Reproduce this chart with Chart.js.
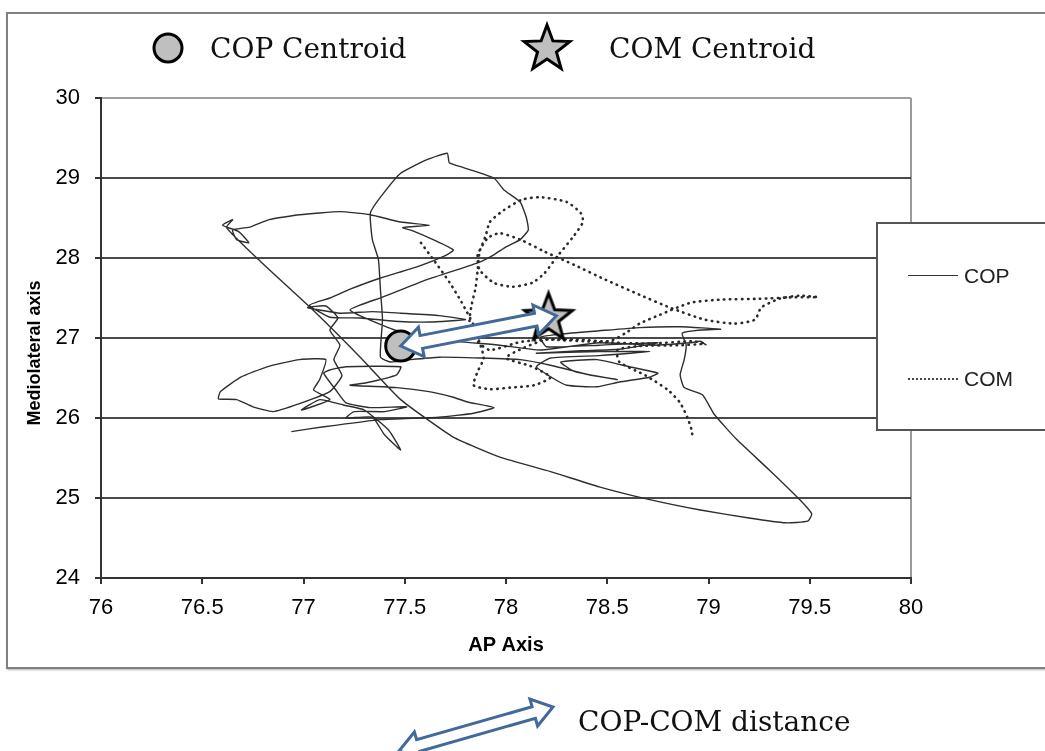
<!DOCTYPE html>
<html>
<head>
<meta charset="utf-8">
<script src="https://cdn.jsdelivr.net/npm/chart.js@4.4.1/dist/chart.umd.min.js"></script>
<style>
  html, body { margin: 0; padding: 0; background: #fff; }
  body { width: 1045px; height: 751px; position: relative; overflow: hidden; font-family: "Liberation Sans", Arial, sans-serif; }
  #frame { position: absolute; left: 6px; top: 12px; width: 1100px; height: 653px; border: 2px solid #808080; box-shadow: 1px 1px 2px #b0b0b0; }
  #chart { position: absolute; left: 0; top: 0; width: 1045px; height: 751px; }
  #marks { position: absolute; left: 0; top: 0; }
  .serif { position: absolute; font-family: "DejaVu Serif", serif; font-size: 28px; color: #111; line-height: 1; white-space: nowrap; }
  #legendBox { position: absolute; left: 876px; top: 222px; width: 200px; height: 205px; border: 2px solid #555; background: #fff; }
  .key { position: absolute; left: 30px; width: 50px; height: 0; }
  .keyText { position: absolute; left: 86px; font-size: 21px; color: #222; line-height: 1; }
</style>
</head>
<body>
<div id="frame"></div>
<canvas id="chart" width="1045" height="751"></canvas>
<svg id="marks" width="1045" height="751"></svg>
<div class="serif" style="left:210px;top:35px">COP Centroid</div>
<div class="serif" style="left:609px;top:35px">COM Centroid</div>
<div class="serif" style="left:578px;top:708px">COP-COM distance</div>
<div id="legendBox">
  <div class="key" style="top:51px;border-top:1.5px solid #333"></div>
  <div class="keyText" style="top:41px">COP</div>
  <div class="key" style="top:154px;border-top:2px dotted #444"></div>
  <div class="keyText" style="top:144px">COM</div>
</div>
<script>
// centre of pressure trace (AP, ML)
const copX = [
  // lower left tangle
  76.94, 77.10, 77.38, 77.67, 77.84, 77.94, 77.81, 77.74, 77.62, 77.46,
  77.23, 77.31, 77.46, 77.48, 77.21, 77.13, 77.10, 77.16, 77.21, 77.33,
  77.51, 77.40, 77.25, 77.21, 77.34, 77.40, 77.48, 77.42, 77.30, 77.20,
  77.08, 76.99, 77.13, 77.05, 77.08, 77.11,
  // left loop and upper curves
  76.98, 76.82, 76.69,
  76.59, 76.58, 76.67, 76.75, 76.85, 76.98, 77.13, 77.19, 77.15, 77.18,
  77.13, 77.17, 77.11, 77.02, 77.18, 77.34, 77.48, 77.67, 77.80, 77.62,
  77.45, 77.28, 77.13, 77.03, 77.13, 77.23, 77.38, 77.56, 77.70, 77.74,
  77.64, 77.54, 77.49, 77.62, 77.48, 77.33, 77.18, 76.98, 76.83, 76.74,
  76.65, 76.67, 76.73, 76.68, 76.60, 76.65, 76.62, 76.79, 77.03, 77.28,
  // long diagonal and big loop
  77.48, 77.74, 77.97, 78.22, 78.46, 78.71, 78.96, 79.20, 79.38, 79.49,
  79.51, 79.45, 79.30, 79.14, 79.03, 78.97, 78.88, 78.86, 78.88, 78.89,
  78.87, 78.96, 79.06, 78.86, 78.66, 78.46, 78.27, 78.17,
  // middle right narrow loops
  78.20, 78.46, 78.75, 78.56, 78.37, 78.15, 78.46, 78.71, 78.46, 78.22,
  78.15, 78.23, 78.30, 78.45, 78.56, 78.71, 78.75, 78.61, 78.45, 78.27,
  78.34, 78.55, 78.41, 78.22, 78.07, 77.87, 77.67, 77.53, 77.43, 77.38,
  // tall vertical and top arch
  77.39, 77.38, 77.37, 77.34, 77.33,
  77.38, 77.48, 77.61, 77.71, 77.72, 77.79, 77.94, 77.99, 78.07, 78.10,
  78.11, 78.07, 78.00, 77.94, 77.86, 77.61, 77.39, 77.23, 77.45, 77.67,
  77.97, 78.17, 78.46, 78.73, 78.91, 78.96, 78.99
];
const copY = [
  25.83, 25.89, 25.98, 26.01, 26.06, 26.13, 26.20, 26.26, 26.33, 26.38,
  26.41, 26.44, 26.54, 26.64, 26.64, 26.60, 26.56, 26.35, 26.19, 26.13,
  26.14, 26.08, 26.08, 26.00, 26.01, 25.79, 25.60, 25.85, 26.10, 26.16,
  26.23, 26.10, 26.23, 26.35, 26.48, 26.73,
  26.73, 26.64, 26.51,
  26.33, 26.24, 26.23, 26.14, 26.08, 26.18, 26.33, 26.53, 26.73, 26.91,
  27.10, 27.25, 27.40, 27.38, 27.31, 27.33, 27.31, 27.28, 27.23, 27.20,
  27.21, 27.25, 27.26, 27.41, 27.50, 27.61, 27.75, 27.89, 28.03, 28.10,
  28.23, 28.34, 28.38, 28.41, 28.45, 28.54, 28.58, 28.54, 28.48, 28.39,
  28.35, 28.23, 28.19, 28.33, 28.41, 28.48, 28.38, 27.95, 27.39, 26.76,
  26.23, 25.76, 25.51, 25.33, 25.14, 24.98, 24.85, 24.75, 24.69, 24.71,
  24.80, 24.98, 25.35, 25.73, 26.04, 26.29, 26.38, 26.54, 26.73, 26.91,
  27.06, 27.10, 27.11, 27.14, 27.13, 27.09, 27.05, 27.01,
  26.89, 26.91, 26.94, 26.86, 26.84, 26.81, 26.83, 26.83, 26.78, 26.75,
  26.64, 26.50, 26.41, 26.39, 26.45, 26.51, 26.56, 26.64, 26.73, 26.70,
  26.58, 26.48, 26.54, 26.66, 26.73, 26.75, 26.76, 26.73, 26.70, 26.76,
  27.23, 27.60, 27.98, 28.23, 28.56,
  28.76, 29.06, 29.23, 29.31, 29.19, 29.13, 29.00, 28.85, 28.70, 28.51,
  28.35, 28.23, 28.14, 28.04, 27.94, 27.73, 27.51, 27.35, 27.10, 26.98,
  26.91, 26.85, 26.94, 26.91, 26.94, 26.96, 26.91
];

// centre of mass trace
const comX = [
  77.58, 77.65, 77.72, 77.78, 77.84, 77.87, 77.89, 77.86, 77.84, 77.92,
  78.02, 78.14, 78.22, 78.12, 78.00, 78.09, 78.20, 78.37, 78.51, 78.59,
  78.66, 78.76, 78.91, 79.06, 79.25, 79.43, 79.54, 79.45, 79.35, 79.26,
  79.23, 79.13, 78.98, 78.81, 78.66, 78.49, 78.34, 78.19, 78.07, 77.97,
  77.91, 77.86, 77.87, 77.94, 78.03, 78.13, 78.19, 78.25, 78.33, 78.38,
  78.37, 78.30, 78.17, 78.08, 77.99, 77.92, 77.90, 77.87, 77.86, 77.85,
  77.83, 77.82, 77.85, 77.92, 78.07, 78.20, 78.46, 78.71, 78.92, 78.98,
  78.86, 78.66, 78.55, 78.56, 78.69, 78.80, 78.86, 78.90, 78.92, 78.91
];
const comY = [
  28.19, 27.95, 27.70, 27.45, 27.16, 26.94, 26.75, 26.58, 26.41, 26.36,
  26.38, 26.41, 26.51, 26.65, 26.75, 26.88, 26.98, 26.98, 26.96, 27.06,
  27.18, 27.29, 27.44, 27.48, 27.49, 27.51, 27.51, 27.53, 27.49, 27.38,
  27.23, 27.18, 27.23, 27.38, 27.54, 27.73, 27.91, 28.08, 28.23, 28.31,
  28.25, 28.04, 27.85, 27.69, 27.64, 27.69, 27.81, 28.01, 28.26, 28.45,
  28.56, 28.70, 28.76, 28.73, 28.60, 28.45, 28.28, 28.08, 27.85, 27.63,
  27.41, 27.20, 26.98, 26.85, 26.95, 26.98, 26.95, 26.93, 26.96, 26.93,
  26.91, 26.90, 26.85, 26.70, 26.53, 26.35, 26.19, 25.98, 25.81, 25.75
];

const copCentroid = [77.48, 26.90];
const comCentroid = [78.21, 27.26];

const xTicks = [76, 76.5, 77, 77.5, 78, 78.5, 79, 79.5, 80];
const yTicks = [24, 25, 26, 27, 28, 29, 30];

const arrowBlue = "#41699b";
const grey = "#bfbfbf";
const sansFamily = "'Liberation Sans', Arial, sans-serif";

function starPoints(cx, cy, R, r) {
  const pts = [];
  for (let i = 0; i < 10; i++) {
    const a = -Math.PI / 2 + i * Math.PI / 5;
    const rad = i % 2 === 0 ? R : r;
    pts.push([cx + rad * Math.cos(a), cy + rad * Math.sin(a)]);
  }
  return pts;
}

// double headed block arrow outline
function arrowPoints(x1, y1, x2, y2, sh, hh, hl) {
  const L = Math.hypot(x2 - x1, y2 - y1);
  const ux = (x2 - x1) / L, uy = (y2 - y1) / L;
  const nx = -uy, ny = ux;
  const a = [x1 + ux * hl, y1 + uy * hl];
  const b = [x2 - ux * hl, y2 - uy * hl];
  return [
    [x1, y1],
    [a[0] + nx * hh, a[1] + ny * hh],
    [a[0] + nx * sh, a[1] + ny * sh],
    [b[0] + nx * sh, b[1] + ny * sh],
    [b[0] + nx * hh, b[1] + ny * hh],
    [x2, y2],
    [b[0] - nx * hh, b[1] - ny * hh],
    [b[0] - nx * sh, b[1] - ny * sh],
    [a[0] - nx * sh, a[1] - ny * sh],
    [a[0] - nx * hh, a[1] - ny * hh]
  ];
}

// star image used as point style
const starImg = document.createElement("canvas");
starImg.width = 60;
starImg.height = 60;
const sc = starImg.getContext("2d");
sc.beginPath();
starPoints(30, 31, 25, 10.5).forEach((p, i) => i ? sc.lineTo(p[0], p[1]) : sc.moveTo(p[0], p[1]));
sc.closePath();
sc.fillStyle = grey;
sc.fill();
sc.lineWidth = 3;
sc.strokeStyle = "#000";
sc.stroke();

// top legend markers and the bottom arrow key
const svg = document.getElementById("marks");
const toStr = pts => pts.map(p => p[0].toFixed(1) + "," + p[1].toFixed(1)).join(" ");
svg.innerHTML =
  `<circle cx="168" cy="48" r="14" fill="${grey}" stroke="#000" stroke-width="3"/>` +
  `<polygon points="${toStr(starPoints(547, 49, 24, 10))}" fill="${grey}" stroke="#000" stroke-width="3"/>` +
  `<polygon points="${toStr(arrowPoints(399, 751, 553, 707, 6, 14, 20))}" fill="#fff" stroke="${arrowBlue}" stroke-width="3" stroke-linejoin="miter"/>`;

const arrowPlugin = {
  id: "centroidArrow",
  afterDatasetsDraw(chart) {
    const xs = chart.scales.x, ys = chart.scales.y;
    const x1 = xs.getPixelForValue(copCentroid[0]), y1 = ys.getPixelForValue(copCentroid[1]);
    let x2 = xs.getPixelForValue(comCentroid[0]), y2 = ys.getPixelForValue(comCentroid[1]);
    const L = Math.hypot(x2 - x1, y2 - y1);
    x2 += (x2 - x1) / L * 8;
    y2 += (y2 - y1) / L * 8;
    const pts = arrowPoints(x1, y1, x2, y2, 6.5, 15, 21);
    const ctx = chart.ctx;
    ctx.save();
    ctx.beginPath();
    pts.forEach((p, i) => i ? ctx.lineTo(p[0], p[1]) : ctx.moveTo(p[0], p[1]));
    ctx.closePath();
    ctx.fillStyle = "#fff";
    ctx.fill();
    ctx.lineWidth = 3;
    ctx.strokeStyle = arrowBlue;
    ctx.stroke();
    ctx.restore();
  },
  afterDraw(chart) {
    // y axis title sits a little below the middle of the axis
    const ctx = chart.ctx;
    ctx.save();
    ctx.translate(35, 353);
    ctx.rotate(-Math.PI / 2);
    ctx.font = "bold 18px " + sansFamily;
    ctx.fillStyle = "#000";
    ctx.textAlign = "center";
    ctx.textBaseline = "middle";
    ctx.fillText("Mediolateral axis", 0, 0);
    ctx.restore();
  }
};

const copPts = copX.map((x, i) => ({ x: x, y: copY[i] }));
const comPts = comX.map((x, i) => ({ x: x, y: comY[i] }));
const tickFont = { family: sansFamily, size: 22 };

new Chart(document.getElementById("chart"), {
  type: "scatter",
  data: {
    datasets: [
      {
        label: "COP Centroid",
        data: [{ x: copCentroid[0], y: copCentroid[1] }],
        pointStyle: "circle",
        pointRadius: 15,
        backgroundColor: grey,
        borderColor: "#000",
        borderWidth: 3,
        order: 0
      },
      {
        label: "COM Centroid",
        data: [{ x: comCentroid[0], y: comCentroid[1] }],
        pointStyle: starImg,
        pointRadius: 25,
        order: 0
      },
      {
        label: "COP",
        data: copPts,
        showLine: true,
        borderColor: "#2e2e2e",
        borderWidth: 1.4,
        pointRadius: 0,
        tension: 0.15,
        order: 2
      },
      {
        label: "COM",
        data: comPts,
        showLine: true,
        borderColor: "#2a2a2a",
        borderWidth: 2.6,
        borderDash: [0.5, 5.5],
        borderCapStyle: "round",
        pointRadius: 0,
        tension: 0.2,
        order: 1
      }
    ]
  },
  options: {
    responsive: false,
    animation: false,
    events: [],
    layout: { padding: { left: 0, top: 98, right: 134, bottom: 0 } },
    plugins: { legend: { display: false }, tooltip: { enabled: false } },
    scales: {
      x: {
        type: "linear",
        min: 76,
        max: 80,
        afterFit(s) { s.height = 173; },
        afterBuildTicks(s) { s.ticks = xTicks.map(v => ({ value: v })); },
        grid: {
          color: ctx => (ctx.tick && ctx.tick.value === 80 ? "#9a9a9a" : "rgba(0,0,0,0)"),
          lineWidth: 2,
          tickColor: "#333",
          tickLength: 6
        },
        border: { color: "#333", width: 2 },
        ticks: { color: "#000", font: tickFont, padding: 11, maxRotation: 0, callback: v => String(v) },
        title: {
          display: true,
          text: "AP Axis",
          color: "#000",
          font: { family: sansFamily, size: 20, weight: "bold" },
          padding: { top: 0, bottom: 94 }
        }
      },
      y: {
        type: "linear",
        min: 24,
        max: 30,
        afterFit(s) { s.width = 101; },
        afterBuildTicks(s) { s.ticks = yTicks.map(v => ({ value: v })); },
        grid: {
          color: ctx => (ctx.tick && ctx.tick.value === 30 ? "#a0a0a0" : "#4a4a4a"),
          lineWidth: 2,
          tickColor: "#333",
          tickLength: 6
        },
        border: { color: "#333", width: 2 },
        ticks: { color: "#000", font: tickFont, padding: 15, callback: v => String(v) },
        title: { display: false }
      }
    }
  },
  plugins: [arrowPlugin]
});
</script>
</body>
</html>
